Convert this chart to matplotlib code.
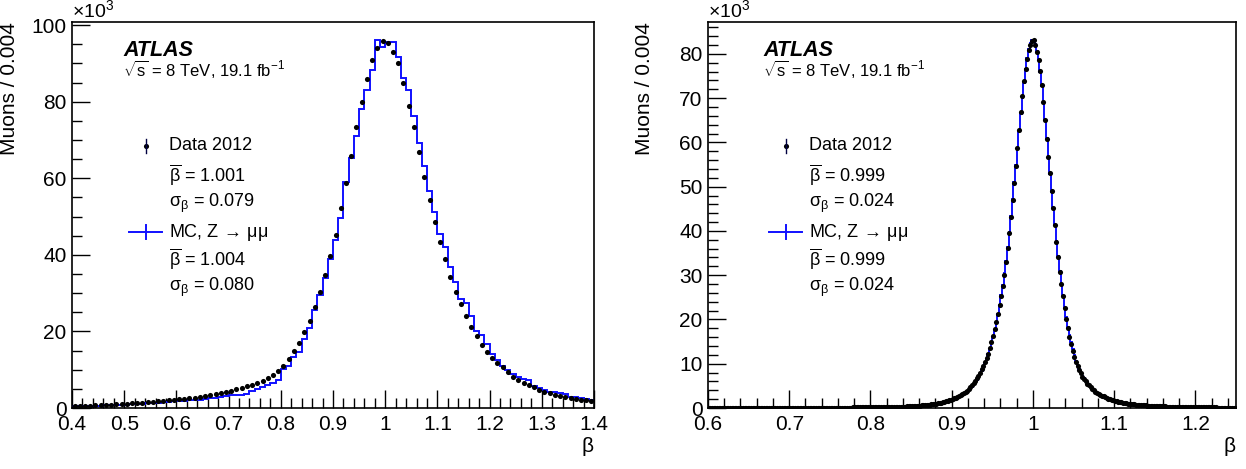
import numpy as np
import matplotlib.pyplot as plt
from matplotlib.ticker import MultipleLocator, FuncFormatter

plt.rcParams.update({
    'font.family': 'Liberation Sans',
    'mathtext.fontset': 'custom',
    'mathtext.rm': 'Liberation Sans',
    'mathtext.it': 'Liberation Sans:italic',
    'mathtext.bf': 'Liberation Sans:bold',
})

# ---- left panel: 0.01 wide bins from 0.4 to 1.4 (values in units of 10^3)
left_lo, left_w = 0.4, 0.01
left_data = [
    0.5, 0.55, 0.6, 0.65, 0.7, 0.75, 0.8, 0.9, 0.95, 1.0,
    1.1, 1.2, 1.3, 1.4, 1.5, 1.6, 1.7, 1.85, 2.0, 2.1,
    2.25, 2.4, 2.55, 2.7, 2.9, 3.1, 3.35, 3.6, 3.9, 4.2,
    4.5, 4.9, 5.3, 5.7, 6.1, 6.6, 7.1, 7.8, 8.6, 9.7,
    11.0, 12.8, 14.8, 17.1, 19.8, 22.8, 26.3, 30.3, 34.8, 39.8,
    45.2, 52.1, 58.8, 65.8, 73.3, 80.0, 85.8, 90.9, 94.0, 95.8,
    95.4, 93.0, 90.0, 84.8, 78.9, 73.3, 66.9, 60.2, 54.3, 48.5,
    43.4, 38.8, 34.1, 30.3, 27.2, 24.0, 21.2, 18.8, 16.4, 14.7,
    13.0, 11.7, 10.6, 9.5, 8.2, 7.3, 6.6, 6.0, 5.4, 4.7,
    4.3, 3.8, 3.4, 3.1, 3.0, 2.5, 2.3, 2.1, 2.1, 1.9,
]
left_mc = [
    0.4, 0.45, 0.5, 0.55, 0.6, 0.65, 0.7, 0.75, 0.8, 0.85,
    0.9, 1.0, 1.05, 1.1, 1.2, 1.3, 1.4, 1.5, 1.6, 1.7,
    1.8, 1.9, 2.0, 2.1, 2.2, 2.4, 2.5, 2.7, 2.9, 3.1,
    3.3, 3.4, 3.4, 3.6, 4.5, 5.0, 5.5, 6.0, 6.4, 7.2,
    10.2, 11.0, 13.2, 14.6, 18.0, 21.0, 25.5, 29.5, 34.0, 39.0,
    44.0, 49.5, 59.0, 65.3, 71.0, 78.0, 83.0, 88.3, 96.1, 94.3,
    95.5, 95.5, 91.7, 86.1, 83.0, 76.2, 69.1, 63.2, 56.7, 51.3,
    45.4, 42.0, 36.9, 33.0, 28.5, 27.3, 24.0, 20.0, 19.1, 16.7,
    14.0, 12.5, 11.0, 10.0, 9.0, 8.2, 7.5, 7.3, 5.8, 5.1,
    4.7, 4.3, 4.2, 3.8, 3.6, 3.0, 2.8, 2.5, 2.3, 2.2,
]
left_stats = ['1.001', '0.079', '1.004', '0.080']

# ---- right panel: 0.002 wide bins from 0.6 to 1.25
right_lo, right_w = 0.6, 0.002
right_data = [
    0.04, 0.04, 0.04, 0.04, 0.04, 0.04, 0.04, 0.04, 0.04, 0.04,
    0.04, 0.04, 0.04, 0.04, 0.04, 0.04, 0.04, 0.05, 0.05, 0.05,
    0.05, 0.05, 0.05, 0.05, 0.05, 0.05, 0.05, 0.05, 0.05, 0.05,
    0.05, 0.05, 0.05, 0.05, 0.05, 0.06, 0.06, 0.06, 0.06, 0.06,
    0.06, 0.06, 0.06, 0.06, 0.06, 0.06, 0.07, 0.07, 0.07, 0.07,
    0.07, 0.07, 0.07, 0.07, 0.07, 0.07, 0.07, 0.07, 0.08, 0.08,
    0.08, 0.08, 0.08, 0.08, 0.08, 0.08, 0.08, 0.08, 0.08, 0.09,
    0.09, 0.09, 0.09, 0.09, 0.09, 0.09, 0.09, 0.10, 0.10, 0.10,
    0.10, 0.10, 0.10, 0.10, 0.11, 0.11, 0.11, 0.11, 0.11, 0.12,
    0.12, 0.12, 0.12, 0.13, 0.13, 0.13, 0.14, 0.14, 0.14, 0.15,
    0.15, 0.15, 0.16, 0.16, 0.17, 0.17, 0.18, 0.18, 0.19, 0.19,
    0.20, 0.21, 0.22, 0.23, 0.24, 0.25, 0.26, 0.27, 0.28, 0.29,
    0.30, 0.32, 0.34, 0.36, 0.38, 0.40, 0.42, 0.45, 0.48, 0.51,
    0.55, 0.58, 0.62, 0.66, 0.70, 0.74, 0.79, 0.84, 0.89, 0.94,
    1.00, 1.07, 1.15, 1.23, 1.32, 1.41, 1.51, 1.62, 1.73, 1.85,
    2.00, 2.15, 2.30, 2.50, 2.70, 2.90, 3.15, 3.40, 3.65, 3.95,
    4.30, 4.70, 5.10, 5.60, 6.10, 6.70, 7.30, 8.00, 8.70, 9.50,
    10.3, 11.2, 12.3, 13.5, 14.8, 16.2, 17.8, 19.5, 21.3, 23.3,
    25.4, 27.6, 30.1, 33.0, 36.2, 39.6, 43.2, 47.0, 50.8, 54.6,
    58.8, 62.9, 66.8, 70.5, 73.8, 76.6, 78.9, 80.8, 82.1, 82.8,
    83.1, 82.0, 80.4, 78.6, 76.2, 73.0, 69.2, 65.0, 60.8, 56.8,
    53.0, 49.0, 45.2, 41.4, 37.6, 34.0, 30.8, 27.9, 25.2, 22.6,
    20.2, 18.1, 16.1, 14.4, 12.9, 11.6, 10.5, 9.5, 8.6, 7.8,
    7.1, 6.5, 6.0, 5.5, 5.1, 4.7, 4.35, 4.0, 3.7, 3.45,
    3.2, 2.98, 2.78, 2.6, 2.43, 2.27, 2.12, 1.98, 1.86, 1.74,
    1.63, 1.53, 1.44, 1.35, 1.27, 1.2, 1.13, 1.07, 1.01, 0.96,
    0.91, 0.86, 0.82, 0.78, 0.74, 0.70, 0.67, 0.64, 0.61, 0.58,
    0.55, 0.53, 0.50, 0.48, 0.46, 0.44, 0.42, 0.40, 0.38, 0.37,
    0.35, 0.34, 0.32, 0.31, 0.30, 0.29, 0.28, 0.27, 0.26, 0.25,
    0.24, 0.23, 0.22, 0.21, 0.21, 0.20, 0.19, 0.19, 0.18, 0.17,
    0.17, 0.16, 0.16, 0.15, 0.15, 0.14, 0.14, 0.13, 0.13, 0.13,
    0.12, 0.12, 0.12, 0.11, 0.11, 0.11, 0.10, 0.10, 0.10, 0.10,
    0.09, 0.09, 0.09, 0.09, 0.09,
]
right_mc = [
    0.03, 0.03, 0.03, 0.03, 0.03, 0.04, 0.04, 0.04, 0.04, 0.04,
    0.04, 0.04, 0.04, 0.04, 0.04, 0.04, 0.04, 0.04, 0.04, 0.04,
    0.04, 0.05, 0.05, 0.05, 0.05, 0.05, 0.05, 0.05, 0.05, 0.05,
    0.05, 0.05, 0.05, 0.05, 0.05, 0.05, 0.05, 0.05, 0.06, 0.06,
    0.06, 0.06, 0.06, 0.06, 0.06, 0.06, 0.06, 0.06, 0.06, 0.07,
    0.07, 0.07, 0.07, 0.07, 0.07, 0.07, 0.07, 0.07, 0.07, 0.07,
    0.07, 0.08, 0.08, 0.08, 0.08, 0.08, 0.08, 0.08, 0.08, 0.08,
    0.08, 0.08, 0.09, 0.09, 0.09, 0.09, 0.09, 0.09, 0.09, 0.09,
    0.10, 0.10, 0.10, 0.10, 0.10, 0.10, 0.10, 0.11, 0.11, 0.11,
    0.11, 0.11, 0.12, 0.12, 0.12, 0.12, 0.13, 0.13, 0.13, 0.14,
    0.14, 0.14, 0.15, 0.15, 0.16, 0.16, 0.17, 0.17, 0.18, 0.18,
    0.19, 0.19, 0.20, 0.21, 0.22, 0.23, 0.24, 0.25, 0.26, 0.27,
    0.28, 0.30, 0.31, 0.33, 0.35, 0.37, 0.39, 0.42, 0.44, 0.47,
    0.50, 0.53, 0.57, 0.60, 0.64, 0.68, 0.72, 0.77, 0.82, 0.87,
    0.92, 0.98, 1.05, 1.12, 1.20, 1.29, 1.38, 1.48, 1.59, 1.70,
    1.83, 1.97, 2.12, 2.29, 2.47, 2.67, 2.89, 3.13, 3.39, 3.68,
    4.00, 4.38, 4.80, 5.25, 5.78, 6.35, 7.00, 7.70, 8.45, 9.30,
    10.2, 11.1, 12.2, 13.4, 14.7, 16.1, 17.7, 19.4, 21.3, 23.3,
    25.5, 27.8, 30.4, 33.2, 36.4, 39.8, 43.4, 47.2, 51.0, 54.8,
    58.7, 62.6, 66.4, 70.1, 73.5, 76.5, 79.0, 81.0, 82.4, 83.2,
    83.2, 82.2, 80.6, 78.6, 76.0, 72.8, 69.0, 65.0, 60.9, 56.8,
    52.8, 48.9, 45.1, 41.4, 37.8, 34.3, 31.0, 28.0, 25.3, 22.8,
    20.5, 18.4, 16.5, 14.8, 13.3, 11.9, 10.7, 9.7, 8.8, 8.0,
    7.3, 6.7, 6.1, 5.6, 5.2, 4.8, 4.4, 4.1, 3.8, 3.5,
    3.25, 3.02, 2.81, 2.62, 2.45, 2.29, 2.14, 2.00, 1.87, 1.75,
    1.64, 1.54, 1.45, 1.36, 1.28, 1.21, 1.14, 1.08, 1.02, 0.97,
    0.92, 0.87, 0.83, 0.79, 0.75, 0.71, 0.68, 0.65, 0.62, 0.59,
    0.56, 0.54, 0.51, 0.49, 0.47, 0.45, 0.43, 0.41, 0.39, 0.38,
    0.36, 0.35, 0.33, 0.32, 0.31, 0.30, 0.29, 0.28, 0.27, 0.26,
    0.25, 0.24, 0.23, 0.22, 0.21, 0.21, 0.20, 0.19, 0.19, 0.18,
    0.18, 0.17, 0.16, 0.16, 0.15, 0.15, 0.14, 0.14, 0.14, 0.13,
    0.13, 0.12, 0.12, 0.12, 0.11, 0.11, 0.11, 0.11, 0.10, 0.10,
    0.10, 0.10, 0.09, 0.09, 0.09,
]
right_stats = ['0.999', '0.024', '0.999', '0.024']

W, H = 1246, 469


def fmt(v, pos):
    return f'{round(v, 6):g}'


def draw_panel(ax, lo, w, data, mc, xlim, ylim, xmaj, ymaj, ymin_step, stats,
               leg_x):
    data = np.asarray(data)
    mc = np.asarray(mc)
    edges = lo + w * np.arange(len(mc) + 1)
    centers = lo + w * (np.arange(len(data)) + 0.5)

    ax.stairs(mc, edges, color='#1010ff', lw=1.4, baseline=None, zorder=2)
    ax.plot(centers, data, 'o', color='black', ms=3.7, mew=0, zorder=3)

    ax.set_xlim(*xlim)
    ax.set_ylim(*ylim)
    ax.xaxis.set_major_locator(MultipleLocator(xmaj))
    ax.xaxis.set_minor_locator(MultipleLocator(xmaj / 5))
    ax.yaxis.set_major_locator(MultipleLocator(ymaj))
    ax.yaxis.set_minor_locator(MultipleLocator(ymin_step))
    ax.xaxis.set_major_formatter(FuncFormatter(fmt))
    ax.yaxis.set_major_formatter(FuncFormatter(fmt))
    ax.tick_params(which='both', direction='in', top=False, right=False,
                   labelsize=15, width=1.0)
    ax.tick_params(which='major', length=13)
    ax.tick_params(which='minor', length=7)
    ax.tick_params(axis='x', pad=5)
    ax.tick_params(axis='y', pad=4)
    for s in ax.spines.values():
        s.set_linewidth(1.2)

    ax.set_ylabel('Muons / 0.004', fontsize=15, loc='top')
    ax.yaxis.set_label_coords(-0.102, 1.0)
    ax.set_xlabel('β', fontsize=15, loc='right')
    ax.xaxis.set_label_coords(1.0, -0.075)
    ax.text(0.0, 1.003, r'$\times10^{3}$', transform=ax.transAxes,
            ha='left', va='bottom', fontsize=14)

    # ATLAS label
    bb = ax.get_position()

    def ay(py):
        return ((H - py) / H - bb.y0) / bb.height

    def ax_x(px):
        return (px / W - bb.x0) / bb.width

    tx = leg_x['atlas']
    ax.text(ax_x(tx), ay(56), 'ATLAS', transform=ax.transAxes, fontsize=15.5,
            fontweight='bold', fontstyle='italic', va='baseline')
    ax.text(ax_x(tx), ay(76), r'$\sqrt{\mathrm{s}}$ = 8 TeV, 19.1 fb$^{-1}$',
            transform=ax.transAxes, fontsize=12, va='baseline')

    # legend
    rows = [146, 175, 203, 232, 259, 287]
    labels = ['Data 2012',
              r'$\overline{\mathrm{\beta}}$ = ' + stats[0],
              r'$\mathrm{\sigma_{\beta}}$ = ' + stats[1],
              r'MC, Z$\,\rightarrow\,\mathrm{\mu\mu}$',
              r'$\overline{\mathrm{\beta}}$ = ' + stats[2],
              r'$\mathrm{\sigma_{\beta}}$ = ' + stats[3]]
    for py, lab in zip(rows, labels):
        ax.text(ax_x(leg_x['text']), ay(py), lab, transform=ax.transAxes,
                fontsize=13, va='center', ha='left')
    mx = ax_x(leg_x['marker'])
    ax.plot([mx], [ay(rows[0])], 'o', color='black', ms=3.7, mew=0,
            transform=ax.transAxes, clip_on=False)
    ax.plot([mx, mx], [ay(rows[0] - 7), ay(rows[0] + 7)], color='#000040',
            lw=1.0, transform=ax.transAxes)
    ax.plot([ax_x(leg_x['line'][0]), ax_x(leg_x['line'][1])],
            [ay(rows[3]), ay(rows[3])], color='#1010ff', lw=1.4,
            transform=ax.transAxes)
    ax.plot([mx, mx], [ay(rows[3] - 7), ay(rows[3] + 7)], color='#1010ff',
            lw=1.4, transform=ax.transAxes)


fig = plt.figure(figsize=(W / 100, H / 100), dpi=100)
axL = fig.add_axes([72 / W, 61 / H, 522 / W, 386 / H])
axR = fig.add_axes([708 / W, 61 / H, 528 / W, 386 / H])

draw_panel(axL, left_lo, left_w, left_data, left_mc, (0.4, 1.4), (0, 100.8),
           0.1, 20, 5, left_stats,
           {'atlas': 123, 'text': 169, 'marker': 146, 'line': (129, 162)})
draw_panel(axR, right_lo, right_w, right_data, right_mc, (0.6, 1.25),
           (0, 87.2), 0.1, 10, 2, right_stats,
           {'atlas': 763, 'text': 809, 'marker': 786, 'line': (769, 802)})

fig.savefig('out.png', dpi=100)
